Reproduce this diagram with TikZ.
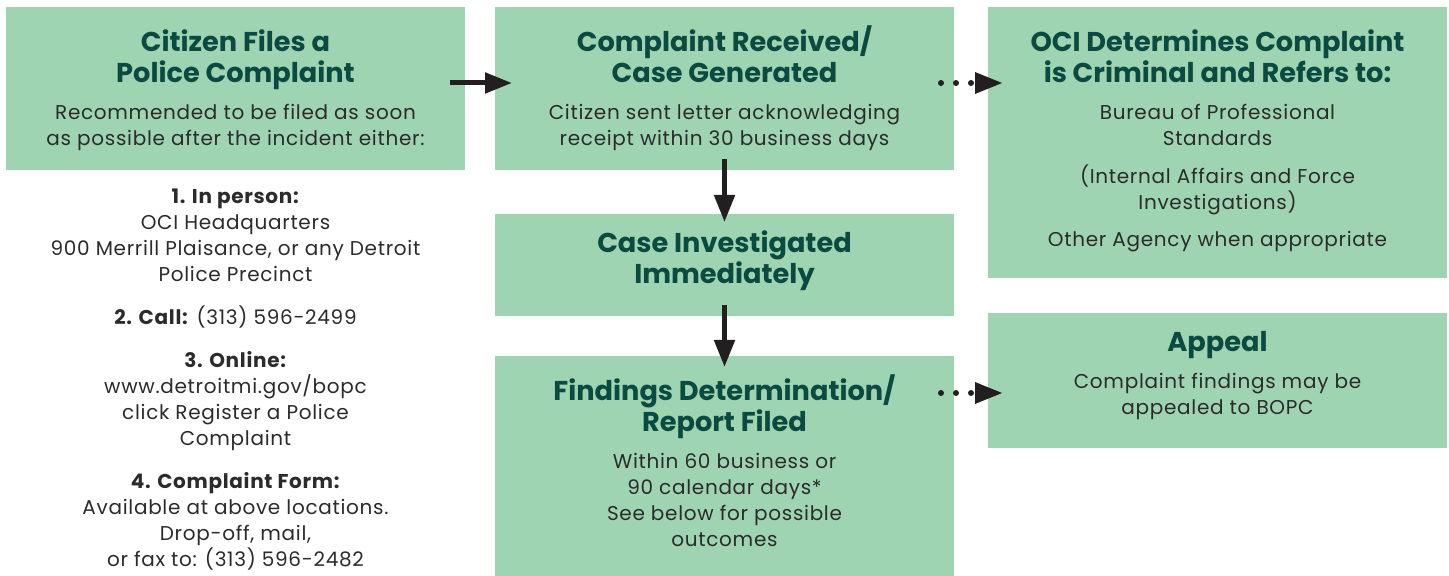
\documentclass[tikz,border=0pt]{standalone}
\usepackage{fontspec}
\setmainfont{Poppins}
\newfontfamily\widebody{Poppins}[LetterSpace=3.5]
\usetikzlibrary{arrows.meta, positioning, calc}
\definecolor{boxgreen}{HTML}{9FD4B3}
\definecolor{titlegreen}{HTML}{0B4A40}
\definecolor{bodygray}{HTML}{2B2B2B}
\definecolor{arrowblack}{HTML}{231F20}
\newcommand{\tstrut}{\vphantom{/}}
\tikzstyle{box} = [rectangle, fill=boxgreen, minimum width=229.5pt, inner sep=0pt,
outer sep=0pt]
\tikzstyle{title} = [anchor=north, inner sep=0pt, align=center, text=titlegreen,
font=\fontsize{13.6}{15.5}\selectfont\bfseries]
\tikzstyle{body} = [anchor=north, inner sep=0pt, align=center, text=bodygray,
font=\widebody\fontsize{10}{13}\selectfont]
\tikzstyle{arrow} = [line width=2.5pt, draw=arrowblack, -{Triangle[length=13.5pt, width=10pt]}]
\tikzstyle{dotarrow} = [line width=3pt, draw=arrowblack, line cap=round,
dash pattern=on 0pt off 7.5pt, -{Triangle[length=14pt, width=10pt]}]

\begin{document}
\begin{tikzpicture}[x=0.5pt, y=-0.5pt, node distance=15pt]
    \useasboundingbox (0,0) rectangle (1449,576);
    \node (cit) [box, minimum height=81.5pt, anchor=north west] at (6,7) {};
    \node (rec) [box, minimum height=81.5pt, right=of cit] {};
    \node (oci) [box, minimum height=135.5pt, right=17pt of rec.north east, anchor=north west] {};
    \node (inv) [box, minimum height=51pt, below=22pt of rec] {};
    \node (fnd) [box, minimum height=110pt, below=20pt of inv] {};
    \node (app) [box, minimum height=67.5pt, below=17.5pt of oci] {};

    \node (citT) [title, below=9pt of cit.north] {\tstrut Citizen Files a\\Police Complaint};
    \node (citB) [body, below=48.6pt of cit.north] {Recommended to be filed as soon\\as possible after the incident either:};
    \node (ways) [body, below=9.1pt of cit] {\textbf{1. In person:}\\OCI Headquarters\\900 Merrill Plaisance, or any Detroit\\Police Precinct\\[8.5pt]
        \textbf{2. Call:} (313) 596-2499\\[8.5pt]
        \textbf{3. Online:}\\www.detroitmi.gov/bopc\\click Register a Police\\Complaint\\[8.5pt]
        \textbf{4. Complaint Form:}\\Available at above locations.\\Drop-off, mail,\\or fax to: (313) 596-2482};
    \node (recT) [title, below=9pt of rec.north] {\tstrut Complaint Received/\\Case Generated};
    \node (recB) [body, below=48.6pt of rec.north] {Citizen sent letter acknowledging\\receipt within 30 business days};
    \node (ociT) [title, below=9pt of oci.north] {\tstrut OCI Determines Complaint\\is Criminal and Refers to:};
    \node (ociB) [body, below=48.6pt of oci.north] {Bureau of Professional\\Standards\\[5.75pt]
        (Internal Affairs and Force\\Investigations)\\[5.75pt]
        Other Agency when appropriate};
    \node (invT) [title, below=6pt of inv.north] {\tstrut Case Investigated\\Immediately};
    \node (fndT) [title, below=9pt of fnd.north] {\tstrut Findings Determination/\\Report Filed};
    \node (fndB) [body, below=48.6pt of fnd.north] {Within 60 business or\\90 calendar days*\\See below for possible\\outcomes};
    \node (appT) [title, below=6pt of app.north] {\tstrut Appeal};
    \node (appB) [body, below=30.1pt of app.north] {Complaint findings may be\\appealed to BOPC};

    \draw[arrow] ([xshift=-7.5pt, yshift=2.75pt]cit.east) -- ([xshift=8.5pt, yshift=2.75pt]rec.west);
    \draw[arrow] ([yshift=5.5pt]rec.south) -- ([yshift=-4pt]inv.north);
    \draw[arrow] ([yshift=5.5pt]inv.south) -- ([yshift=-5.5pt]fnd.north);
    \draw[dotarrow] ([xshift=-6.5pt, yshift=2.75pt]rec.east) -- ($(oci.west |- rec.east)+(7.5pt,2.75pt)$);
    \draw[dotarrow] ($(fnd.east |- app.east)+(-6.5pt,-6.25pt)$) -- ([xshift=7.5pt, yshift=-6.25pt]app.west);

\end{tikzpicture}
\end{document}
